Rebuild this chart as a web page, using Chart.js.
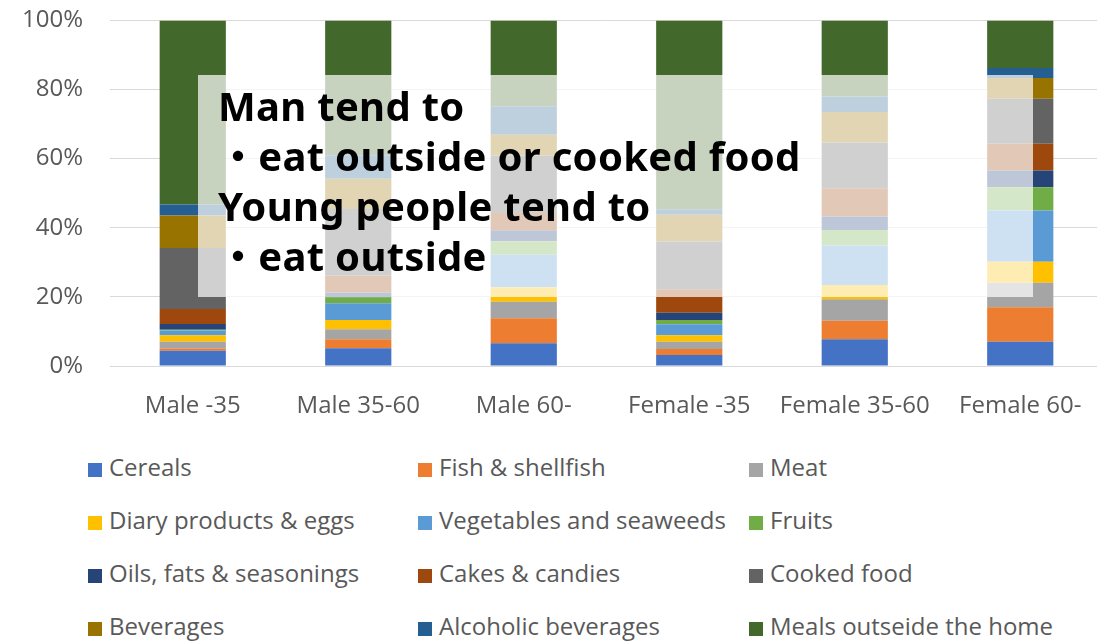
<!DOCTYPE html>
<html>
<head>
<meta charset="utf-8">
<script src="https://cdn.jsdelivr.net/npm/chart.js@4/dist/chart.umd.min.js"></script>
<style>
  body { margin: 0; background: #fff; }
  #wrap { position: relative; width: 1097px; height: 641px; overflow: hidden; }
  #chart { position: absolute; left: 0; top: -21px; }
  #note {
    position: absolute; left: 198px; top: 75px; width: 835px; height: 222px;
    background: rgba(255,255,255,0.7);
    font-family: "Noto Sans", "Noto Sans CJK JP", sans-serif;
    font-weight: bold; font-size: 40px; color: #000; letter-spacing: 0.3px;
  }
  #note div { position: absolute; left: 20px; height: 50px; line-height: 50px; white-space: nowrap; }
  #legend { position: absolute; left: 0; top: 440px; width: 1097px; height: 200px;
    font-family: "Open Sans", sans-serif; font-size: 24px; color: #595959; }
  .item { position: absolute; height: 30px; line-height: 30px; white-space: nowrap; }
  .item span.box { display: inline-block; width: 14px; height: 14px; margin-right: 7px; vertical-align: -1px; }
</style>
</head>
<body>
<div id="wrap">
  <canvas id="chart" width="1103" height="441"></canvas>
  <div id="note">
    <div style="top:6px">Man tend to</div>
    <div style="top:56px">・eat outside or cooked food</div>
    <div style="top:106px">Young people tend to</div>
    <div style="top:156px">・eat outside</div>
  </div>
  <div id="legend"></div>
</div>
<script>
// categories (x axis)
const categories = ['Male -35', 'Male 35-60', 'Male 60-', 'Female -35', 'Female 35-60', 'Female 60-'];

// share of food expenses, %
const cereals    = [4.4, 5.1, 6.6, 3.2, 7.7, 7.0];
const fish       = [0.7, 2.6, 7.2, 1.7, 5.4, 10.0];
const meat       = [1.9, 2.9, 4.8, 2.1, 6.2, 7.1];
const diary      = [1.9, 2.7, 4.2, 1.9, 4.1, 6.1];
const vegetables = [1.4, 4.8, 9.4, 3.2, 11.4, 14.8];
const fruits     = [0.2, 1.7, 3.9, 1.2, 4.5, 6.7];
const oils       = [1.7, 1.4, 3.2, 2.1, 3.9, 4.9];
const cakes      = [4.3, 4.8, 5.0, 6.8, 8.2, 7.7];
const cooked     = [17.7, 19.3, 16.6, 13.8, 13.2, 13.0];
const beverages  = [9.4, 8.7, 6.1, 7.7, 8.8, 6.0];
const alcoholic  = [3.2, 6.8, 8.2, 1.6, 4.5, 2.9];
const mealsOut   = [53.4, 38.9, 24.9, 54.6, 22.0, 13.8];

const yTickLabels = ['0%', '20%', '40%', '60%', '80%', '100%'];

const SERIES = [
  ['Cereals',                  cereals,    '#4472C4'],
  ['Fish & shellfish',         fish,       '#ED7D31'],
  ['Meat',                     meat,       '#A5A5A5'],
  ['Diary products & eggs',    diary,      '#FFC000'],
  ['Vegetables and seaweeds',  vegetables, '#5B9BD5'],
  ['Fruits',                   fruits,     '#70AD47'],
  ['Oils, fats & seasonings',  oils,       '#264478'],
  ['Cakes & candies',          cakes,      '#9E480E'],
  ['Cooked food',              cooked,     '#636363'],
  ['Beverages',                beverages,  '#997300'],
  ['Alcoholic beverages',      alcoholic,  '#255E91'],
  ['Meals outseide the home',  mealsOut,   '#43682B'],
];

// 100% stacked: scale each column to its total
const totals = categories.map((_, i) => SERIES.reduce((s, d) => s + d[1][i], 0));

const datasets = SERIES.map(([label, values, color]) => ({
  label,
  data: values.map((v, i) => v / totals[i] * 100),
  backgroundColor: color,
  borderWidth: 0,
  barPercentage: 0.4,
  categoryPercentage: 1.0,
}));

const FONT = { family: '"Open Sans", sans-serif', size: 24 };

const chart = new Chart(document.getElementById('chart'), {
  type: 'bar',
  data: { labels: categories, datasets },
  options: {
    responsive: false,
    animation: false,
    layout: { padding: { top: 0, right: 0, bottom: 0, left: 0 } },
    plugins: { legend: { display: false }, tooltip: { enabled: false } },
    scales: {
      x: {
        stacked: true,
        grid: { display: false },
        border: { color: '#D9D9D9' },
        ticks: { color: '#595959', font: FONT, padding: 18, maxRotation: 0 },
        afterFit: (s) => { s.height = 54; },
      },
      y: {
        stacked: true,
        min: 0,
        max: 100,
        grid: { color: '#D9D9D9', drawTicks: false },
        border: { display: false },
        ticks: {
          stepSize: 20,
          color: '#595959',
          font: FONT,
          padding: 27,
          callback: (v) => yTickLabels[v / 20],
        },
        afterFit: (s) => { s.width = 110; },
      },
    },
  },
});

// legend in Excel's 3-column layout, built from the chart's datasets
const legend = document.getElementById('legend');
const colX = [88, 418, 749];
const rowY = [12, 65, 118, 171];
chart.data.datasets.forEach((ds, i) => {
  const el = document.createElement('div');
  el.className = 'item';
  el.style.left = colX[i % 3] + 'px';
  el.style.top = rowY[Math.floor(i / 3)] + 'px';
  el.innerHTML = '<span class="box" style="background:' + ds.backgroundColor + '"></span>' + ds.label;
  legend.appendChild(el);
});
</script>
</body>
</html>
